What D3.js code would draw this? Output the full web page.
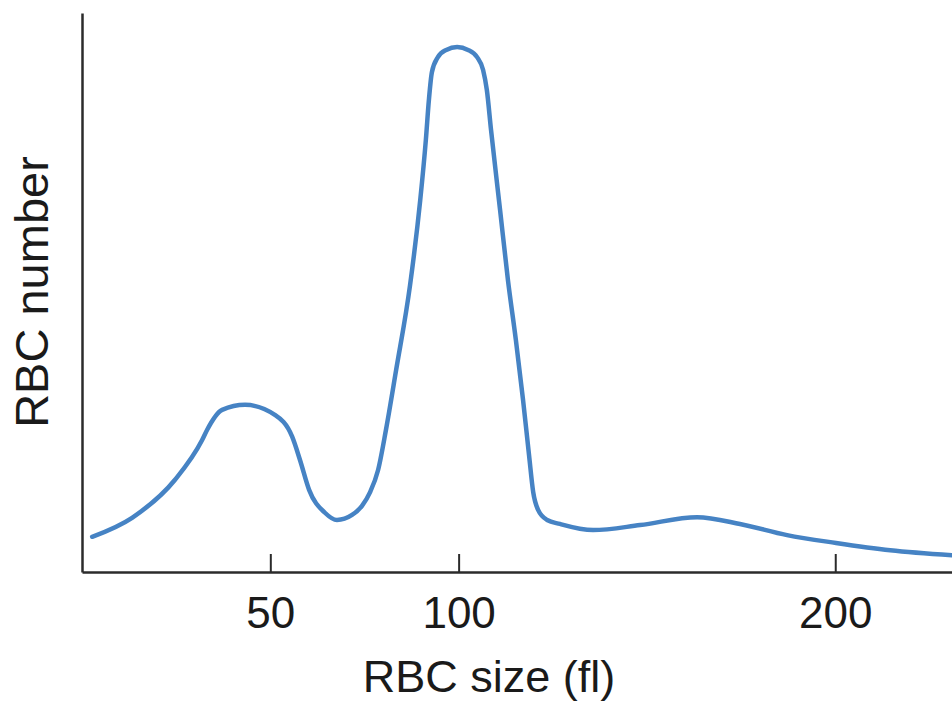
<!DOCTYPE html>
<html>
<head>
<meta charset="utf-8">
<script src="https://cdn.jsdelivr.net/npm/d3@7"></script>
<style>
  html, body { margin: 0; padding: 0; background: #fff; }
  svg { display: block; }
</style>
</head>
<body>
<svg id="chart" width="952" height="704"></svg>
<script>
// RBC size (fl)
const sizes = [2.7, 13.3, 24.7, 31.9, 33.2, 37.2, 43.3, 51.2, 55.8, 57.9, 60.3, 64.5, 67.7, 71.7, 74.3, 76.5,
  78.6, 80.7, 83.4, 87.1, 89.8, 91.3, 92.1, 92.9, 94.5, 96.7, 99.6, 102.5, 104.9, 106.5, 107.5, 108.6,
  111.0, 113.1, 115.2, 117.1, 118.7, 119.8, 121.1, 123.5, 126.9, 135.7, 148.2, 163.3, 174.7,
  187.2, 200.2, 214.6, 231.0];
// RBC number (relative)
const counts = [6.3, 9.7, 16.5, 23.6, 25.4, 29.0, 29.9, 28.1, 24.2, 20.0, 14.7, 10.6, 9.3, 10.2, 11.8, 14.3,
  18.2, 25.4, 36.1, 51.3, 66.5, 77.3, 84.4, 89.4, 92.1, 93.4, 93.9, 93.4, 92.1, 89.8, 86.2, 79.1,
  64.8, 52.2, 41.5, 30.8, 20.9, 14.3, 11.1, 9.3, 8.6, 7.5, 8.4, 9.8, 8.6,
  6.6, 5.2, 3.9, 3.0];
const tickValues = [50, 100, 200];
const xTitle = "RBC size (fl)";
const yTitle = "RBC number";

const svg = d3.select("#chart");
const x = d3.scaleLinear().domain([0, 231]).range([82, 952]);
const y = d3.scaleLinear().domain([0, 100]).range([572, 13]);

const axisColor = "#2b2b2b";
const font = "'Liberation Sans', Arial, Helvetica, sans-serif";

// Curve
const data = sizes.map((s, i) => [s, counts[i]]);
svg.append("path")
  .datum(data)
  .attr("fill", "none")
  .attr("stroke", "#4683c4")
  .attr("stroke-width", 4.5)
  .attr("stroke-linejoin", "round")
  .attr("stroke-linecap", "round")
  .attr("d", d3.line().x(d => x(d[0])).y(d => y(d[1])).curve(d3.curveMonotoneX));

// X axis
const xAxis = svg.append("g")
  .attr("transform", `translate(0,${y(0)})`)
  .call(d3.axisBottom(x).tickValues(tickValues).tickSizeInner(-18).tickSizeOuter(0).tickPadding(25));
xAxis.select(".domain").attr("stroke", axisColor).attr("stroke-width", 2.5);
xAxis.selectAll(".tick line").attr("stroke", axisColor).attr("stroke-width", 2);
xAxis.selectAll(".tick text")
  .attr("font-family", font).attr("font-size", 44).attr("fill", "#1a1a1a");

// Y axis (no ticks)
const yAxis = svg.append("g")
  .attr("transform", `translate(${x(0)},0)`)
  .call(d3.axisLeft(y).tickValues([]).tickSizeOuter(0));
yAxis.select(".domain").attr("stroke", axisColor).attr("stroke-width", 2.5);

// Titles
svg.append("text")
  .attr("x", 489).attr("y", 692)
  .attr("text-anchor", "middle")
  .attr("font-family", font).attr("font-size", 45).attr("fill", "#1a1a1a")
  .text(xTitle);

svg.append("text")
  .attr("transform", "translate(48,292) rotate(-90)")
  .attr("text-anchor", "middle")
  .attr("font-family", font).attr("font-size", 47).attr("fill", "#1a1a1a")
  .text(yTitle);
</script>
</body>
</html>
